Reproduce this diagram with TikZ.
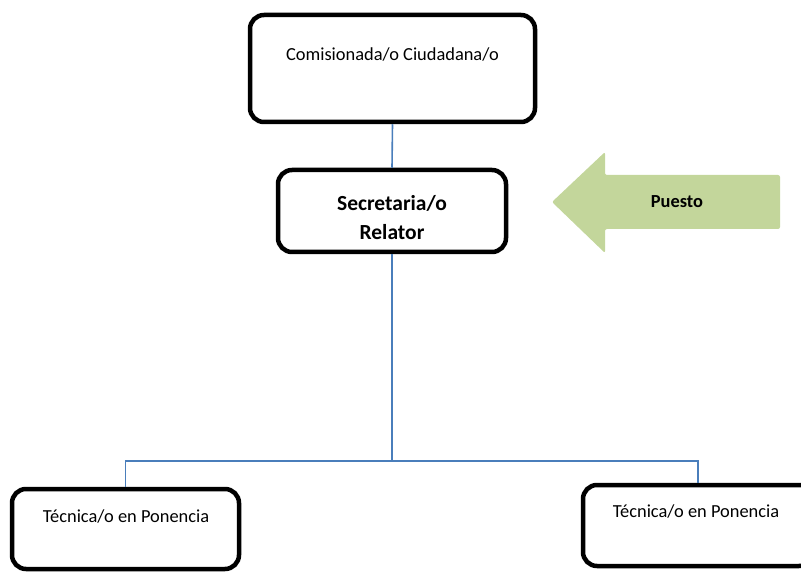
\documentclass[tikz,border=0pt]{standalone}
\usepackage{fontspec}
\setmainfont{Carlito}
\definecolor{verdepuesto}{HTML}{C3D69B}
\definecolor{azullinea}{HTML}{4A7EBB}
\tikzset{
  caja/.style={draw=black, line width=4.5pt, rounded corners=14pt, fill=white, inner sep=0pt},
  linea/.style={draw=azullinea, line width=1.6pt},
  texto/.style={font=\fontsize{18.4}{22}\selectfont, inner sep=0pt},
  textonegro/.style={font=\fontsize{21.5}{29}\selectfont\bfseries, align=center, inner sep=0pt},
}
\begin{document}
\begin{tikzpicture}[x=1pt,y=-1pt]
  \useasboundingbox (0,0) rectangle (801,572);
  \clip (0,0) rectangle (801,572);
  % cajas del organigrama
  \node[caja, minimum width=285pt, minimum height=107pt] (comisionada) at (392.5,68.5) {};
  \node[caja, minimum width=228pt, minimum height=82pt] (secretaria) at (392,211) {};
  \node[caja, minimum width=227pt, minimum height=80pt] (tecnicaizq) at (125.5,529) {};
  \node[caja, minimum width=230pt, minimum height=81pt] (tecnicader) at (698,525.5) {};
  % textos
  \node[texto] (lblcomisionada) at (392.5,55) {Comisionada/o Ciudadana/o};
  \node[textonegro] (lblsecretaria) at (392,217.5) {Secretaria/o\\Relator};
  \node[texto] (lbltecnicaizq) at (126,517) {Técnica/o en Ponencia};
  \node[texto] (lbltecnicader) at (696,512) {Técnica/o en Ponencia};
  % lineas
  \coordinate (ramal) at (392,461);
  \draw[linea] (comisionada.south) -- (secretaria.north);
  \draw[linea] (secretaria.south) -- (ramal);
  \draw[linea] (tecnicaizq.north) |- (ramal) -| (tecnicader.north);
  % flecha verde
  \fill[verdepuesto, rounded corners=2pt] (552,202) -- (605,152) -- (605,175) -- (780,175)
    -- (780,229) -- (605,229) -- (605,253) -- cycle;
  \node[font=\fontsize{18.4}{22}\selectfont\bfseries, inner sep=0pt] (puesto) at (677,202) {Puesto};
\end{tikzpicture}
\end{document}
